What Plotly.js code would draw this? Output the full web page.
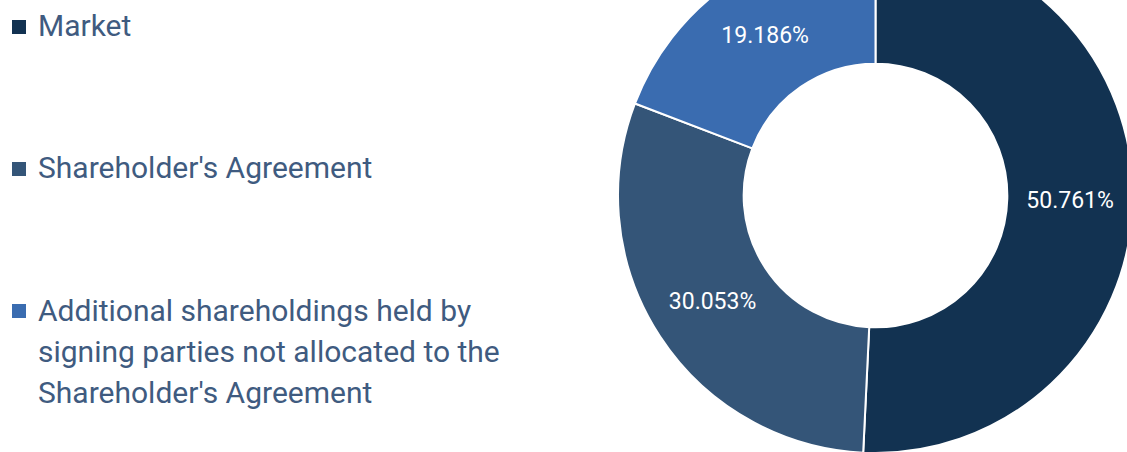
<!DOCTYPE html>
<html>
<head>
<meta charset="utf-8">
<script src="https://cdn.plot.ly/plotly-3.0.1.min.js"></script>
<style>
  html, body { margin: 0; padding: 0; background: #ffffff; overflow: hidden; width: 1127px; height: 452px; }
  #chart { position: absolute; left: 0; top: -62px; width: 1140px; height: 515px; }
</style>
</head>
<body>
<div id="chart"></div>
<script>
// ---- data ----
const categories = [
  "Market",
  "Shareholder's Agreement",
  "Additional shareholdings held by signing parties not allocated to the Shareholder's Agreement"
];
// legend text, one list of lines per category
const legendLines = [
  ["Market"],
  ["Shareholder's Agreement"],
  ["Additional shareholdings held by", "signing parties not allocated to the", "Shareholder's Agreement"]
];
const shares = [50.761, 30.053, 19.186];

// ---- styles ----
const sliceColors = ["#123251", "#345578", "#3a6cb0"];
const textColor = "#3f5b80";
const FONT = "Roboto, 'Open Sans', sans-serif";
const LEG_SIZE = 30;

const W = 1140, H = 515, OFF = 62;
const px = x => x / W;
const py = y => 1 - (y + OFF) / H;

// legend rows: baseline of first line (screen px), line gap, square top
const legendBaseline = [35, 177, 320];
const lineGap = 41;
const squareTop = [20, 162, 304];

const shapes = [];
const annotations = [];
for (let i = 0; i < categories.length; i++) {
  shapes.push({
    type: 'rect', xref: 'paper', yref: 'paper',
    x0: px(12), x1: px(26), y0: py(squareTop[i] + 14), y1: py(squareTop[i]),
    fillcolor: sliceColors[i], line: { width: 0 }
  });
  legendLines[i].forEach((line, j) => {
    const top = legendBaseline[i] + j * lineGap - 29;
    annotations.push({
      xref: 'paper', yref: 'paper', x: px(36), y: py(top),
      xanchor: 'left', yanchor: 'top', align: 'left', valign: 'top',
      showarrow: false, text: line,
      font: { family: FONT, size: LEG_SIZE, color: textColor }
    });
  });
}

const trace = {
  type: 'pie',
  labels: categories,
  values: shares,
  sort: false,
  direction: 'clockwise',
  rotation: 0,
  hole: 0.512,
  marker: { colors: sliceColors, line: { color: '#ffffff', width: 2 } },
  texttemplate: '%{value:.3f}%',
  textposition: 'inside',
  insidetextorientation: 'horizontal',
  insidetextfont: { family: FONT, size: 23, color: '#ffffff' },
  hoverinfo: 'label+value',
  showlegend: false,
  domain: { x: [px(618), px(1133)], y: [0, 1] }
};

const layout = {
  width: W, height: H,
  margin: { l: 0, r: 0, t: 0, b: 0, pad: 0 },
  paper_bgcolor: '#ffffff',
  plot_bgcolor: '#ffffff',
  showlegend: false,
  shapes: shapes,
  annotations: annotations
};

Plotly.newPlot('chart', [trace], layout, { displayModeBar: false, staticPlot: true });
</script>
</body>
</html>
